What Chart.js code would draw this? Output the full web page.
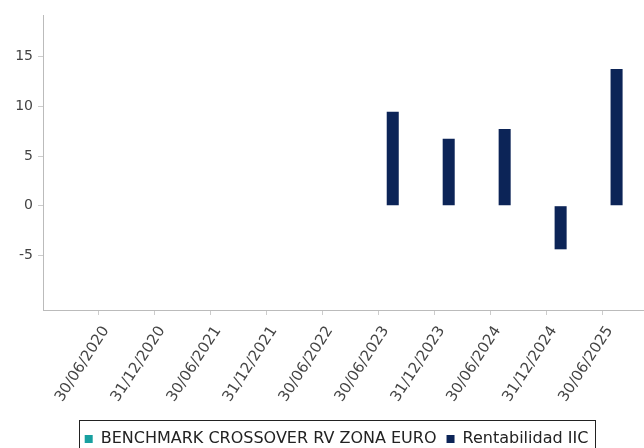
<!DOCTYPE html>
<html>
<head>
<meta charset="utf-8">
<script src="https://cdn.jsdelivr.net/npm/chart.js@4.4.1/dist/chart.umd.min.js"></script>
<style>
  body { margin: 0; background: #fff; }
  #wrap { width: 644px; height: 448px; }
</style>
</head>
<body>
<div id="wrap"><canvas id="rentabilidad"></canvas></div>
<script>
const fechas = ['30/06/2020', '31/12/2020', '30/06/2021', '31/12/2021', '30/06/2022',
                '30/06/2023', '31/12/2023', '30/06/2024', '31/12/2024', '30/06/2025'];
const benchmark = [null, null, null, null, null, null, null, null, null, null];
const rentabilidadIIC = [null, null, null, null, null, 9.46, 6.74, 7.72, -4.39, 13.77];
const yTicks = [-5, 0, 5, 10, 15];

const toPoints = (arr) => arr.map((v, i) => ({ x: i, y: v }));

const LEGEND_SHIFT = 7;

// leyenda desplazada y con caja negra alrededor
const legendBorder = {
  id: 'legendBorder',
  afterLayout(chart) {
    chart.legend.left += LEGEND_SHIFT;
    chart.legend.right += LEGEND_SHIFT;
  },
  afterDraw(chart) {
    const boxes = chart.legend.legendHitBoxes;
    if (!boxes || !boxes.length) return;
    const first = boxes[0], last = boxes[boxes.length - 1];
    const ctx = chart.ctx;
    const x0 = Math.round(first.left) - 5.5;
    const x1 = Math.round(last.left + last.width) + 7.5;
    const y0 = Math.round(first.top) - 10.5;
    ctx.save();
    ctx.strokeStyle = '#222';
    ctx.lineWidth = 1;
    ctx.strokeRect(x0, y0, x1 - x0, 60);
    ctx.restore();
  }
};

new Chart(document.getElementById('rentabilidad'), {
  type: 'bar',
  data: {
    datasets: [{
      label: 'BENCHMARK CROSSOVER RV ZONA EURO',
      data: toPoints(benchmark),
      backgroundColor: '#17a0a0',
      borderWidth: 0
    }, {
      label: 'Rentabilidad IIC',
      data: toPoints(rentabilidadIIC),
      backgroundColor: '#0c2457',
      borderWidth: 0
    }]
  },
  options: {
    responsive: true,
    maintainAspectRatio: false,
    animation: false,
    categoryPercentage: 1,
    barPercentage: 0.43,
    layout: { padding: { left: 15, top: 15, right: 0, bottom: -9 } },
    plugins: {
      tooltip: { enabled: false },
      legend: {
        position: 'bottom',
        labels: {
          boxWidth: 8,
          boxHeight: 8,
          padding: 10,
          color: '#222',
          font: { family: 'DejaVu Sans', size: 16 }
        }
      }
    },
    scales: {
      x: {
        type: 'linear',
        offset: false,
        min: -1,
        max: 9.74,
        afterBuildTicks: (scale) => { scale.ticks = fechas.map((_, i) => ({ value: i })); },
        afterFit: (scale) => { scale.height = 111; scale.paddingLeft = 0; scale.paddingRight = 0; },
        grid: { offset: false, drawOnChartArea: false, drawTicks: true, tickLength: 5, color: '#ccc' },
        border: { display: true, color: '#bbb' },
        ticks: {
          autoSkip: false,
          minRotation: 57,
          maxRotation: 57,
          padding: 8,
          labelOffset: 7,
          color: '#444',
          font: { family: 'DejaVu Sans', size: 15 },
          callback: (v) => fechas[v]
        }
      },
      y: {
        min: -10.5,
        max: 19.2,
        afterBuildTicks: (scale) => { scale.ticks = yTicks.map(v => ({ value: v })); },
        afterFit: (scale) => { scale.width = 28; },
        grid: { drawOnChartArea: false, drawTicks: true, tickLength: 5, color: '#ccc' },
        border: { display: true, color: '#bbb' },
        ticks: {
          padding: 5,
          color: '#444',
          font: { family: 'DejaVu Sans', size: 14 }
        }
      }
    }
  },
  plugins: [legendBorder]
});
</script>
</body>
</html>
